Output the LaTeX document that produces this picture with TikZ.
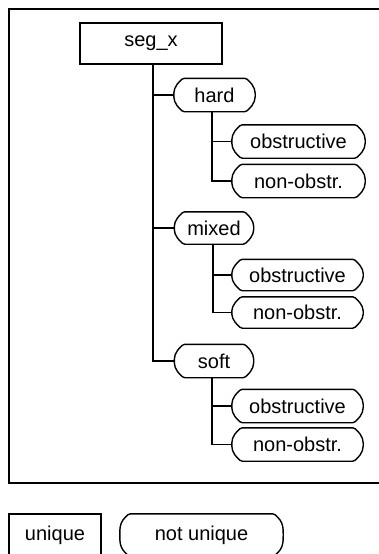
\documentclass[tikz,border=0pt]{standalone}
\usepackage{fontspec}
\setmainfont{Liberation Sans}
\tikzset{
  lbl/.style={inner sep=0pt, font=\fontsize{20}{24}\selectfont},
  rectbox/.style={lbl, draw, line width=1.3pt},
  pillbox/.style={lbl, minimum height=33pt},
  pillline/.style={line width=1.4pt, rounded corners=1.5pt},
  conn/.style={line width=1.8pt},
  frame/.style={line width=1.8pt}
}
\newcommand\pillpath[1]{%
  \draw[pillline] ([xshift=9pt]#1.north west) -- ([xshift=-9pt]#1.north east)
    -- ([xshift=-4pt,yshift=-5pt]#1.north east)
    to[out=-55,in=90] (#1.east) to[out=-90,in=55] ([xshift=-4pt,yshift=5pt]#1.south east)
    -- ([xshift=-9pt]#1.south east) -- ([xshift=9pt]#1.south west)
    -- ([xshift=4pt,yshift=5pt]#1.south west)
    to[out=125,in=-90] (#1.west) to[out=90,in=-125] ([xshift=4pt,yshift=-5pt]#1.north west) -- cycle;}
\begin{document}
\begin{tikzpicture}[x=1pt,y=-1pt]
\useasboundingbox (0,0) rectangle (379,554);
\clip (0,0) rectangle (379,554);
\draw[frame] (9,9) rectangle (395,483);

\node[rectbox, minimum width=142pt, minimum height=41pt] (seg) at (151,43.5) {seg\_x\hspace{3pt}};

\node[pillbox, minimum width=81pt] (hard) at (214.5,95) {hard\hspace{5pt}};
\node[pillbox, minimum width=133pt] (o1) at (298.5,141.5) {obstructive\hspace{10pt}};
\node[pillbox, minimum width=133pt] (n1) at (298.5,181) {non-obstr.\hspace{10pt}};

\node[pillbox, minimum width=79pt, minimum height=32pt] (mixed) at (214,228) {mixed\hspace{5pt}};
\node[pillbox, minimum width=131pt, minimum height=31pt] (o2) at (297.5,275) {obstructive\hspace{10pt}};
\node[pillbox, minimum width=131pt, minimum height=31pt] (n2) at (297.5,312.5) {non-obstr.\hspace{10pt}};

\node[pillbox, minimum width=79pt] (soft) at (214,361) {soft\hspace{5pt}};
\node[pillbox, minimum width=131pt] (o3) at (297.5,406) {obstructive\hspace{10pt}};
\node[pillbox, minimum width=131pt] (n3) at (297.5,444.5) {non-obstr.\hspace{10pt}};

\foreach \n in {hard,o1,n1,mixed,o2,n2,soft,o3,n3} {\pillpath{\n}}

\coordinate (trunk) at (153,0);
\coordinate (c1) at (212,0);
\coordinate (c2) at (213,0);
\coordinate (c3) at (212,0);

\draw[conn] (seg.south -| trunk) |- (soft.west);
\draw[conn] (trunk |- hard.west) -- (hard.west);
\draw[conn] (trunk |- mixed.west) -- (mixed.west);

\draw[conn] (hard.south -| c1) |- (n1.west);
\draw[conn] (c1 |- o1.west) -- (o1.west);
\draw[conn] (mixed.south -| c2) |- (n2.west);
\draw[conn] (c2 |- o2.west) -- (o2.west);
\draw[conn] (soft.south -| c3) |- (n3.west);
\draw[conn] (c3 |- o3.west) -- (o3.west);

\node[rectbox, minimum width=92pt, minimum height=42pt] (uniq) at (55,535) {unique\hspace{6pt}};
\node[pillbox, minimum width=163pt, minimum height=42pt] (nuniq) at (201.5,535) {not unique\hspace{6pt}};
\pillpath{nuniq}
\end{tikzpicture}
\end{document}
